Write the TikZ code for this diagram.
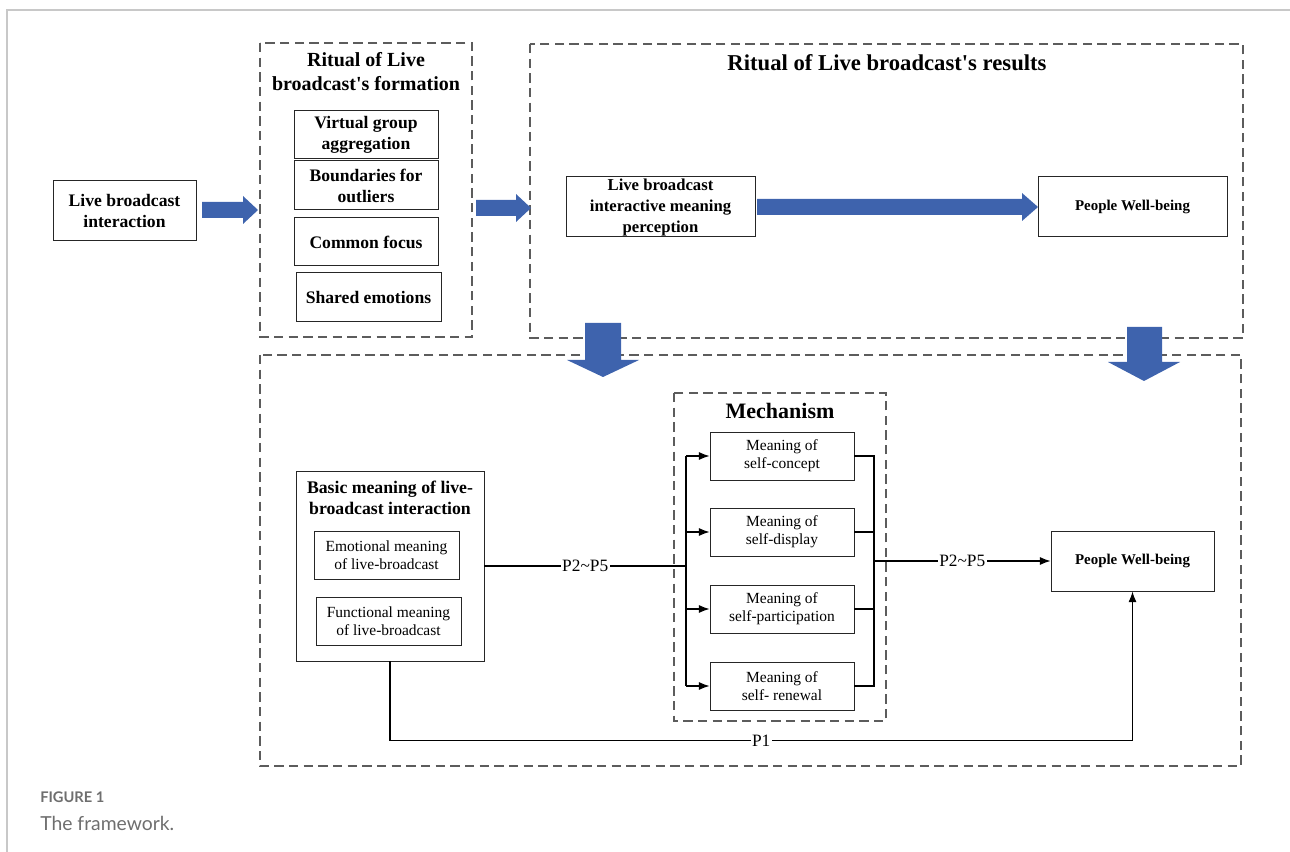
\documentclass[tikz,border=0pt]{standalone}
\usepackage{fontspec}
\setmainfont{Liberation Serif}
\newfontfamily\capfont{Lato}
\usetikzlibrary{arrows.meta}
\definecolor{arrowblue}{HTML}{3E63AD}
\definecolor{dashgrey}{HTML}{5C5C5C}
\definecolor{framegrey}{HTML}{C8C8C8}
\definecolor{capgrey}{HTML}{6E6E6E}
\tikzset{
  box/.style={draw=black!85, line width=0.75pt, inner sep=0pt, align=center},
  hbox/.style={box, font=\bfseries\fontsize{13.2}{15.75}\selectfont},
  mbox/.style={box, line width=0.7pt, font=\fontsize{11.6}{13.5}\selectfont},
  group/.style={draw=dashgrey, line width=0.9pt, dash pattern=on 7pt off 4pt},
  title/.style={align=center, inner sep=0pt, font=\bfseries\fontsize{15}{18}\selectfont},
  link/.style={line width=0.8pt},
  lbl/.style={fill=white, inner sep=1pt, font=\fontsize{13}{15}\selectfont},
}
\begin{document}
\begin{tikzpicture}[x=0.75pt,y=-0.75pt,>={Latex[length=8pt,width=6pt]}]
  \useasboundingbox (0,0) rectangle (1290,852);
  \draw[framegrey, line width=1.5pt] (7,852) -- (7,10) -- (1290,10);

  % upper row
  \node[hbox, minimum width=107.25pt, minimum height=45pt] (inter) at (124.5,211) {Live broadcast\\interaction};

  \draw[group] (260,43) rectangle (472,337);
  \node[title] (formtitle) at (366,72) {Ritual of Live\\broadcast\textquotesingle s formation};
  \node[hbox, minimum width=108pt, minimum height=36pt] (vga) at (366,135) {Virtual group\\aggregation};
  \node[hbox, minimum width=108pt, minimum height=36.75pt] (bfo) at (366,185.5) {Boundaries for\\outliers};
  \node[hbox, minimum width=108pt, minimum height=36pt] (cf) at (366,242) {Common focus};
  \node[hbox, minimum width=108.75pt, minimum height=36.75pt] (se) at (368.5,297.5) {Shared emotions};

  \draw[group] (530,44) rectangle (1243,338);
  \node[title, font=\bfseries\fontsize{17}{20}\selectfont] (restitle) at (887,63) {Ritual of Live broadcast\textquotesingle s results};
  \node[hbox, font=\bfseries\fontsize{12.5}{15.75}\selectfont, minimum width=141.75pt, minimum height=45pt] (perc) at (660.5,207) {Live broadcast\\interactive meaning\\perception};
  \node[hbox, font=\bfseries\fontsize{11.2}{13}\selectfont, minimum width=141.75pt, minimum height=45pt] (wba) at (1132.5,207) {People Well-being};

  \fill[arrowblue] (202,202) -- (243,202) -- (243,196) -- (258,210) -- (243,224) -- (243,218) -- (202,218) -- cycle;
  \fill[arrowblue] (476,200) -- (516,200) -- (516,194) -- (531,208) -- (516,222) -- (516,216) -- (476,216) -- cycle;
  \fill[arrowblue] (757,199) -- (1022,199) -- (1022,193) -- (1038,207) -- (1022,221) -- (1022,215) -- (757,215) -- cycle;

  % lower part
  \draw[group] (260,355) rectangle (1241,766);
  \fill[arrowblue] (585,323) -- (621,323) -- (621,360) -- (639,360) -- (603,377) -- (567,360) -- (585,360) -- cycle;
  \fill[arrowblue] (1127,327) -- (1162,327) -- (1162,362) -- (1180,362) -- (1144,381) -- (1108,362) -- (1127,362) -- cycle;

  \node[box, line width=0.7pt, minimum width=141pt, minimum height=142.5pt] (basic) at (390,566) {};
  \node[title, font=\bfseries\fontsize{13.3}{15.75}\selectfont] (basictitle) at (390,498) {Basic meaning of live-\\broadcast interaction};
  \node[mbox, minimum width=108.75pt, minimum height=36pt] (emo) at (386.5,555) {Emotional meaning\\of live-broadcast};
  \node[mbox, minimum width=108.75pt, minimum height=36pt] (func) at (388.5,621) {Functional meaning\\of live-broadcast};

  \draw[group] (674,393) rectangle (886,721);
  \node[title, font=\bfseries\fontsize{16.5}{19}\selectfont] (mechtitle) at (780,411) {Mechanism};
  \node[mbox, minimum width=108pt, minimum height=36pt] (ma) at (782,456) {Meaning of\\self-concept};
  \node[mbox, minimum width=108pt, minimum height=36pt] (mb) at (782,532) {Meaning of\\self-display};
  \node[mbox, minimum width=108pt, minimum height=36pt] (mc) at (782,609) {Meaning of\\self-participation};
  \node[mbox, minimum width=108pt, minimum height=36pt] (md) at (782,686) {Meaning of\\self- renewal};

  \node[hbox, font=\bfseries\fontsize{11.2}{13}\selectfont, line width=0.7pt, minimum width=122.25pt, minimum height=45pt] (wbb) at (1132.5,561) {People Well-being};

  \coordinate (busl) at (686,566);
  \coordinate (busr) at (874,561);
  \draw[link] (basic.east) -- node[lbl]{P2\textasciitilde P5} (busl);
  \draw[link] (busl |- ma) -- (busl |- md);
  \draw[link,->] (busl |- ma) -- (ma.west);
  \draw[link,->] (busl |- mb) -- (mb.west);
  \draw[link,->] (busl |- mc) -- (mc.west);
  \draw[link,->] (busl |- md) -- (md.west);
  \draw[link] (ma.east) -- (ma.east -| busr) -- (md.east -| busr) -- (md.east);
  \draw[link] (mb.east) -- (mb.east -| busr);
  \draw[link] (mc.east) -- (mc.east -| busr);
  \draw[link,->] (busr) -- node[lbl]{P2\textasciitilde P5} (wbb.west);
  \draw[link,->] (basic.south) -- ++(0,79) -| node[pos=0.25, lbl]{P1} (wbb.south);

  % caption
  \node[anchor=west, inner sep=0pt, text=capgrey, font=\capfont\bfseries\fontsize{11}{13}\selectfont] (fig) at (40,797) {FIGURE 1};
  \node[anchor=west, inner sep=0pt, text=capgrey, font=\capfont\fontsize{14.5}{17}\selectfont] (cap) at (40,823) {The framework.};
\end{tikzpicture}
\end{document}
